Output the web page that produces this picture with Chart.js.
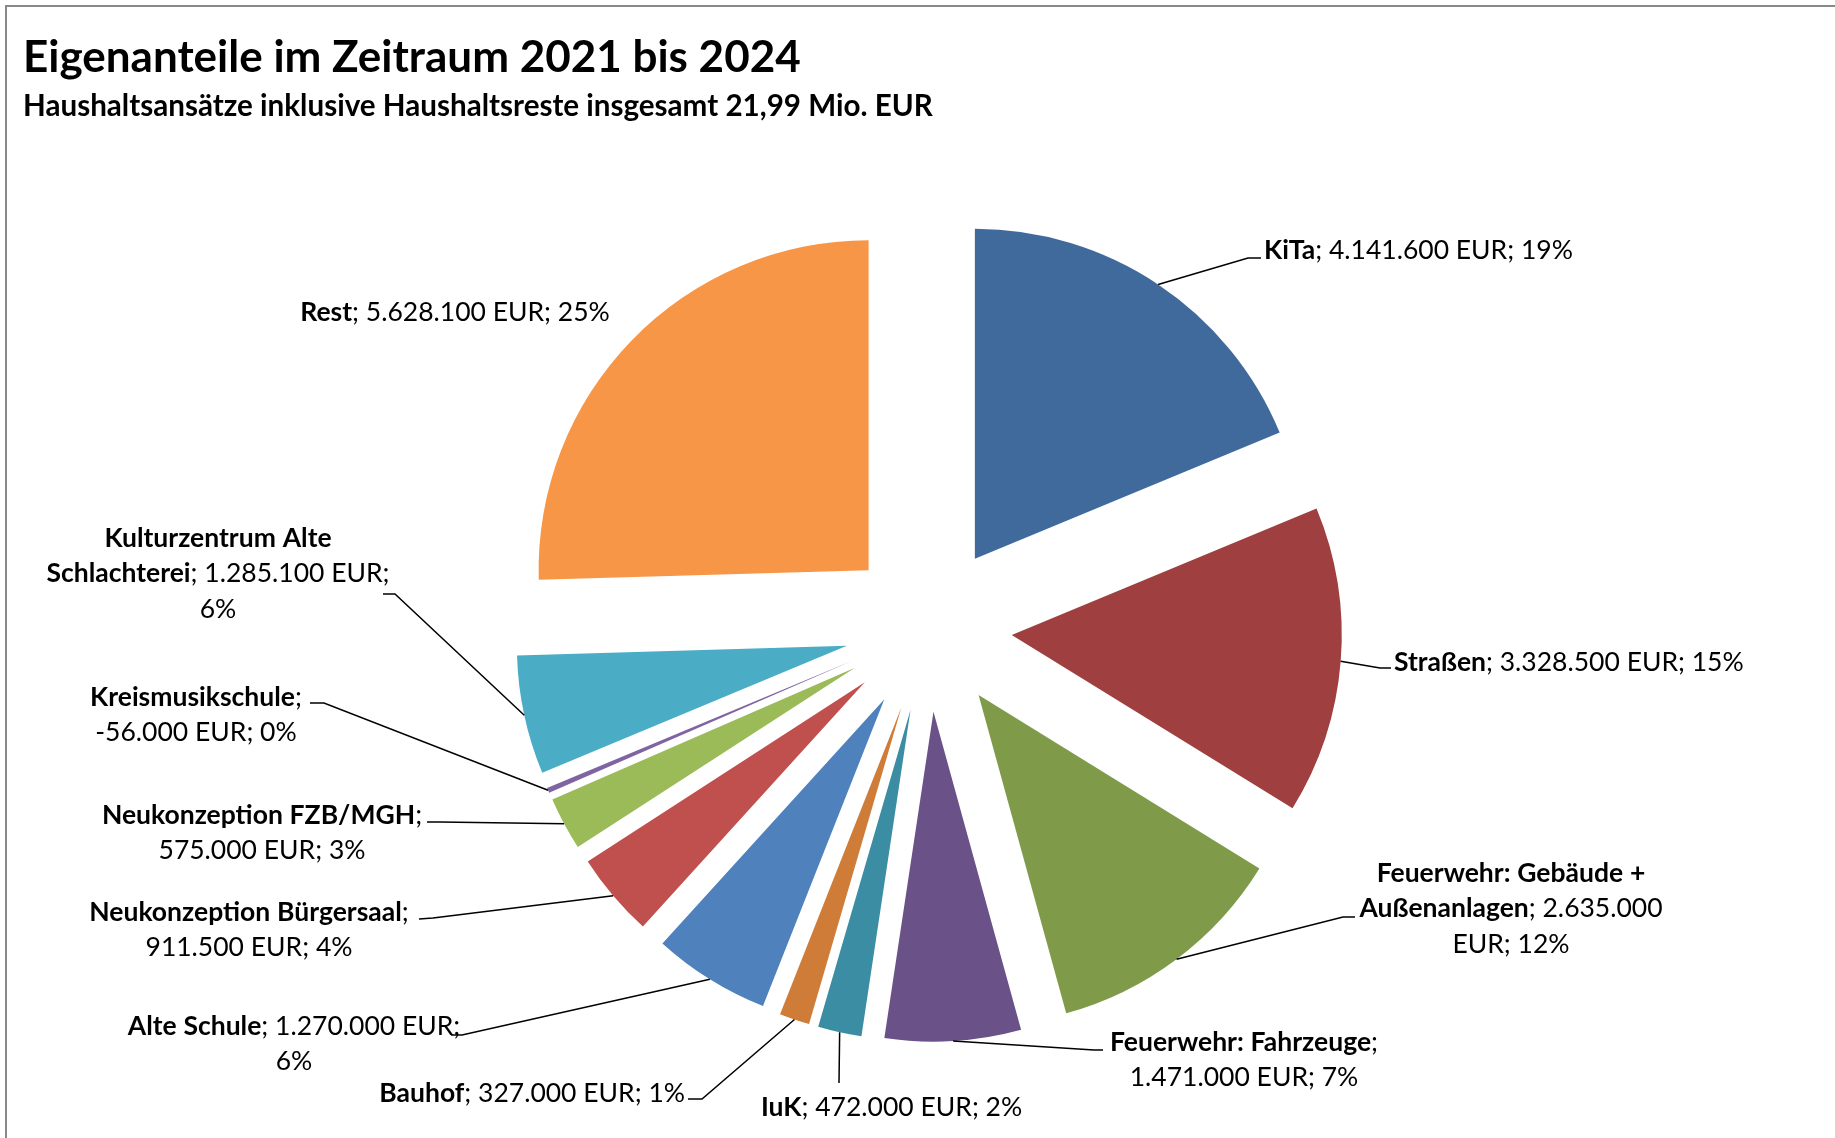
<!DOCTYPE html>
<html>
<head>
<meta charset="utf-8">
<script src="https://cdn.jsdelivr.net/npm/chart.js@4/dist/chart.umd.min.js"></script>
<style>
  html, body { margin: 0; padding: 0; background: #fff; }
  canvas { display: block; }
</style>
</head>
<body>
<canvas id="chart" width="1835" height="1138"></canvas>
<script>
// Daten: Eigenanteile 2021-2024 (EUR), im Uhrzeigersinn ab 12 Uhr
const categories = ['KiTa', 'Straßen', 'Feuerwehr: Gebäude + Außenanlagen', 'Feuerwehr: Fahrzeuge', 'IuK', 'Bauhof',
  'Alte Schule', 'Neukonzeption Bürgersaal', 'Neukonzeption FZB/MGH', 'Kreismusikschule', 'Kulturzentrum Alte Schlachterei', 'Rest'];
const amounts = [4141600, 3328500, 2635000, 1471000, 472000, 327000, 1270000, 911500, 575000, -56000, 1285100, 5628100];
const sliceColors = ['#416a9c', '#9f3f3f', '#7f9b4a', '#6a5188', '#3a8da3', '#ce7c37',
  '#4f81bd', '#c0504d', '#9bbb59', '#8064a2', '#4bacc6', '#f79646'];

const titleText = 'Eigenanteile im Zeitraum 2021 bis 2024';
const subtitleText = 'Haushaltsansätze inklusive Haushaltsreste insgesamt 21,99 Mio. EUR';

// Beschriftungen: Lage, Umbruch (Wörter pro Zeile) und Führungslinie
const labelLayout = [
  { align: 'left', x: 1264, y: 248, wrap: [4], leader: [[1261, 258], [1248, 258]] },
  { align: 'left', x: 1394, y: 660, wrap: [4], leader: [[1391, 668], [1380, 668]] },
  { align: 'center', x: 1511, y: 871, wrap: [3, 2, 2], leader: [[1355, 917], [1343, 917]] },
  { align: 'center', x: 1244, y: 1040, wrap: [2, 3], leader: [[1103, 1050], [1094, 1050]] },
  { align: 'left', x: 761, y: 1105, wrap: [4], leader: [[839, 1083]] },
  { align: 'right', x: 685, y: 1091, wrap: [4], leader: [[688, 1099], [702, 1099]] },
  { align: 'center', x: 294, y: 1024, wrap: [4, 1], leader: [[451, 1035], [462, 1035]] },
  { align: 'center', x: 249, y: 910, wrap: [2, 3], leader: [[419, 919], [433, 918]] },
  { align: 'center', x: 262, y: 813, wrap: [2, 3], leader: [[427, 822], [440, 822]] },
  { align: 'center', x: 196, y: 695, wrap: [1, 3], leader: [[310, 703], [324, 703]] },
  { align: 'center', x: 218, y: 536, wrap: [2, 3, 1], leader: [[383, 594], [395, 594]] },
  { align: 'center', x: 455, y: 310, wrap: [4], leader: null }
];

const explode = 83.5;     // Abstand der Segmente vom Mittelpunkt
const pieRadius = 330;
const labelSize = 26.5;
const lineStep = 35.5;
const labelShiftY = 2;

Chart.defaults.font.family = 'Lato';

const totalAbs = amounts.reduce((s, v) => s + Math.abs(v), 0);

function formatEUR(v) {
  const s = String(Math.abs(v)).replace(/\B(?=(\d{3})+(?!\d))/g, '.');
  return (v < 0 ? '-' : '') + s;
}

function labelWords(i) {
  const words = categories[i].split(' ').map(w => [{ t: w, bold: true }]);
  words[words.length - 1].push({ t: ';', bold: false });
  words.push([{ t: formatEUR(amounts[i]), bold: false }]);
  words.push([{ t: 'EUR;', bold: false }]);
  words.push([{ t: Math.round(Math.abs(amounts[i]) / totalAbs * 100) + '%', bold: false }]);
  return words;
}

function fontFor(bold) {
  return (bold ? 'bold ' : '') + labelSize + 'px Lato';
}

// Segmente gleichmäßig nach außen schieben (ohne Radiuskorrektur von Chart.js)
const explodeSlices = {
  id: 'explodeSlices',
  afterDatasetsUpdate(chart) {
    chart.getDatasetMeta(0).data.forEach(arc => {
      if (arc._exploded) return;
      const baseDraw = arc.draw.bind(arc);
      arc.draw = function(ctx) {
        const mid = (this.startAngle + this.endAngle) / 2;
        ctx.save();
        ctx.translate(Math.cos(mid) * explode, Math.sin(mid) * explode);
        baseDraw(ctx);
        ctx.restore();
      };
      arc._exploded = true;
    });
  }
};

const frame = {
  id: 'frame',
  beforeDraw(chart) {
    const ctx = chart.ctx;
    ctx.save();
    ctx.strokeStyle = '#898989';
    ctx.lineWidth = 2;
    ctx.strokeRect(6, 6, 1900, 1300);
    ctx.restore();
  }
};

const sliceLabels = {
  id: 'sliceLabels',
  afterDatasetsDraw(chart) {
    const ctx = chart.ctx;
    const meta = chart.getDatasetMeta(0);
    ctx.save();
    meta.data.forEach((arc, i) => {
      const lay = labelLayout[i];
      const mid = (arc.startAngle + arc.endAngle) / 2;
      const dist = explode + arc.outerRadius;
      const px = arc.x + Math.cos(mid) * dist;
      const py = arc.y + Math.sin(mid) * dist;

      if (lay.leader) {
        ctx.strokeStyle = '#000';
        ctx.lineWidth = 1.5;
        ctx.beginPath();
        ctx.moveTo(lay.leader[0][0], lay.leader[0][1]);
        lay.leader.slice(1).forEach(p => ctx.lineTo(p[0], p[1]));
        ctx.lineTo(px, py);
        ctx.stroke();
      }

      const words = labelWords(i);
      let k = 0;
      ctx.fillStyle = '#000';
      ctx.textBaseline = 'middle';
      ctx.textAlign = 'left';
      lay.wrap.forEach((n, li) => {
        const lineWords = words.slice(k, k + n);
        k += n;
        ctx.font = fontFor(false);
        const space = ctx.measureText(' ').width;
        let w = 0;
        lineWords.forEach((runs, wi) => {
          runs.forEach(run => { ctx.font = fontFor(run.bold); w += ctx.measureText(run.t).width; });
          if (wi > 0) w += space;
        });
        let x = lay.align === 'left' ? lay.x : lay.align === 'right' ? lay.x - w : lay.x - w / 2;
        const y = lay.y + li * lineStep + labelShiftY;
        lineWords.forEach((runs, wi) => {
          if (wi > 0) x += space;
          runs.forEach(run => {
            ctx.font = fontFor(run.bold);
            ctx.fillText(run.t, x, y);
            x += ctx.measureText(run.t).width;
          });
        });
      });
    });
    ctx.restore();
  }
};

new Chart(document.getElementById('chart'), {
  type: 'pie',
  data: {
    labels: categories,
    datasets: [{
      data: amounts,
      backgroundColor: sliceColors,
      borderWidth: 0,
      offset: 0,
      hoverOffset: 0,
      radius: pieRadius
    }]
  },
  options: {
    responsive: false,
    animation: false,
    events: [],
    layout: { padding: { left: 23, right: 1, top: 0, bottom: 5.8 } },
    plugins: {
      legend: { display: false },
      tooltip: { enabled: false },
      title: {
        display: true, text: titleText, align: 'start', color: '#000',
        font: { size: 44, weight: 'bold', lineHeight: 1.2 },
        padding: { top: 31.7, bottom: 0 }
      },
      subtitle: {
        display: true, text: subtitleText, align: 'start', color: '#000',
        font: { size: 29.6, weight: 'bold', lineHeight: 1.2 },
        padding: { top: 4.4, bottom: 0 }
      }
    }
  },
  plugins: [frame, explodeSlices, sliceLabels]
});
</script>
</body>
</html>
